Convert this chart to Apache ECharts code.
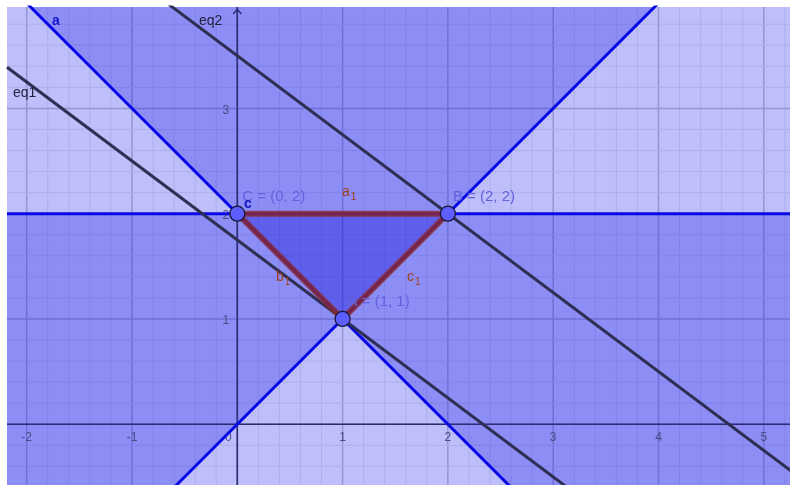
<!DOCTYPE html>
<html>
<head>
<meta charset="utf-8" />
<title>Triangle from three inequalities</title>
<script src="https://cdn.jsdelivr.net/npm/echarts@6/dist/echarts.min.js"></script>
<style>
html, body { margin: 0; padding: 0; background: #fff; }
#main { width: 790px; height: 485px; }
</style>
</head>
<body>
<div id="main"></div>
<script>
// visible window, in graph units
var xMin = -2.187, xMax = 5.249, yMin = -0.577, yMax = 3.963;

// lines as A*x + B*y = C
var lineNames = ['a', 'b', 'c', 'eq1', 'eq2'];
var lineA = [1, -1, 0, 3, 3];
var lineB = [1, 1, 1, 4, 4];
var lineC = [2, 0, 2, 7, 14];
// shaded side: 1 -> A*x+B*y >= C, -1 -> <=, 0 -> no shading
var shadeSide = [1, 1, -1, 0, 0];

var pointNames = ['A', 'B', 'C'];
var pointX = [1, 2, 0];
var pointY = [1, 2, 2];

// triangle sides (point indexes)
var sideNames = ['a1', 'b1', 'c1'];
var sideFrom = [2, 2, 0];
var sideTo = [1, 0, 1];

var xTicks = [-2, -1, 0, 1, 2, 3, 4, 5];
var yTicks = [1, 2, 3];
var minorStep = 0.2;

var FONT = '"Liberation Sans", Arial, sans-serif';

// cut a polygon with one half plane (Sutherland-Hodgman, one edge)
function clipHalf(poly, A, B, C, side) {
	var out = [];
	for (var i = 0; i < poly.length; i++) {
		var p = poly[i], q = poly[(i + 1) % poly.length];
		var fp = side * (A * p[0] + B * p[1] - C);
		var fq = side * (A * q[0] + B * q[1] - C);
		if (fp >= 0) out.push(p);
		if ((fp >= 0) !== (fq >= 0)) {
			var t = fp / (fp - fq);
			out.push([p[0] + t * (q[0] - p[0]), p[1] + t * (q[1] - p[1])]);
		}
	}
	return out;
}
var box = [[xMin - 1, yMin - 1], [xMax + 1, yMin - 1], [xMax + 1, yMax + 1], [xMin - 1, yMax + 1]];

var series = [];

// grid (drawn under the shading, like GeoGebra)
series.push({
	type: 'custom', z: 1, silent: true, animation: false,
	data: [[0, 0]],
	renderItem: function (params, api) {
		var kids = [];
		var k0 = Math.ceil(xMin / minorStep), k1 = Math.floor(xMax / minorStep);
		for (var k = k0; k <= k1; k++) {
			var v = k * minorStep;
			var major = Math.abs(v - Math.round(v)) < 1e-6;
			var p = api.coord([v, yMax]), q = api.coord([v, yMin]);
			kids.push({ type: 'line', shape: { x1: p[0], y1: p[1], x2: q[0], y2: q[1] },
				style: { stroke: major ? '#c8c8c8' : '#eaeaea', lineWidth: major ? 1.5 : 1 } });
		}
		k0 = Math.ceil(yMin / minorStep); k1 = Math.floor(yMax / minorStep);
		for (k = k0; k <= k1; k++) {
			v = k * minorStep;
			major = Math.abs(v - Math.round(v)) < 1e-6;
			p = api.coord([xMin, v]); q = api.coord([xMax, v]);
			kids.push({ type: 'line', shape: { x1: p[0], y1: p[1], x2: q[0], y2: q[1] },
				style: { stroke: major ? '#c8c8c8' : '#eaeaea', lineWidth: major ? 1.5 : 1 } });
		}
		return { type: 'group', children: kids };
	}
});

// half plane shading
var shadeIdx = [];
for (var i = 0; i < lineNames.length; i++) if (shadeSide[i] !== 0) shadeIdx.push([i, 0]);
series.push({
	type: 'custom', z: 2, clip: true, silent: true, animation: false,
	data: shadeIdx,
	renderItem: function (params, api) {
		var i = api.value(0);
		var poly = clipHalf(box, lineA[i], lineB[i], lineC[i], shadeSide[i]).map(function (p) { return api.coord(p); });
		return { type: 'polygon', shape: { points: poly }, style: { fill: 'rgba(0,0,235,0.255)' } };
	}
});

// triangle fill
series.push({
	type: 'custom', z: 3, clip: true, silent: true, animation: false,
	data: [[0, 0]],
	renderItem: function (params, api) {
		var pts = pointNames.map(function (n, j) { return api.coord([pointX[j], pointY[j]]); });
		return { type: 'polygon', shape: { points: pts }, style: { fill: 'rgba(0,0,170,0.09)' } };
	}
});

// axes, tick labels
series.push({
	type: 'custom', z: 4, silent: true, animation: false,
	data: [[0, 0]],
	renderItem: function (params, api) {
		var o = api.coord([0, 0]);
		var l = api.coord([xMin, 0]), r = api.coord([xMax, 0]);
		var t = api.coord([0, yMax]), b = api.coord([0, yMin]);
		var axisStyle = { stroke: '#2c2c74', lineWidth: 1.6 };
		var kids = [
			{ type: 'line', shape: { x1: l[0], y1: o[1], x2: r[0], y2: o[1] }, style: axisStyle },
			{ type: 'line', shape: { x1: o[0], y1: b[1], x2: o[0], y2: t[1] }, style: axisStyle },
			{ type: 'polyline', shape: { points: [[o[0] - 4, t[1] + 7], [o[0], t[1] + 2], [o[0] + 4, t[1] + 7]] },
				style: { stroke: '#2c2c74', lineWidth: 1.4, fill: null } }
		];
		xTicks.forEach(function (v) {
			var p = api.coord([v, 0]);
			kids.push({ type: 'text', x: v === 0 ? p[0] - 9 : p[0], y: p[1] + 13,
				style: { text: String(v), fill: '#4a4a80', font: '12px ' + FONT, align: 'center', verticalAlign: 'middle' } });
		});
		yTicks.forEach(function (v) {
			var p = api.coord([0, v]);
			kids.push({ type: 'text', x: p[0] - 8, y: p[1] + 2,
				style: { text: String(v), fill: '#4a4a80', font: '12px ' + FONT, align: 'right', verticalAlign: 'middle' } });
		});
		return { type: 'group', children: kids };
	}
});

// the five lines
lineNames.forEach(function (n, i) {
	var xa = xMin, xb = xMax + 1;
	var blue = shadeSide[i] !== 0;
	series.push({
		name: n, type: 'line', z: 5, symbol: 'none', animation: false, silent: true,
		lineStyle: { color: blue ? '#0808e6' : '#2e2e52', width: 3, cap: 'butt' },
		data: [[xa, (lineC[i] - lineA[i] * xa) / lineB[i]], [xb, (lineC[i] - lineA[i] * xb) / lineB[i]]]
	});
});

// triangle sides
sideNames.forEach(function (n, s) {
	var f = sideFrom[s], t = sideTo[s];
	series.push({
		name: n, type: 'line', z: 6, symbol: 'none', animation: false, silent: true,
		lineStyle: { color: 'rgba(140,44,44,0.8)', width: 6 },
		data: [[pointX[f], pointY[f]], [pointX[t], pointY[t]]]
	});
});

// points
series.push({
	type: 'scatter', z: 7, animation: false, silent: true,
	symbolSize: 15,
	itemStyle: { color: '#5e5eff', borderColor: '#151530', borderWidth: 1.2, opacity: 1 },
	label: {
		show: true, position: 'inside', offset: [5, -17], align: 'left', verticalAlign: 'middle',
		color: '#6262de', fontFamily: FONT, fontSize: 15,
		formatter: function (p) { return p.name + ' = (' + p.value[0] + ', ' + p.value[1] + ')'; }
	},
	data: pointNames.map(function (n, j) { return { name: n, value: [pointX[j], pointY[j]] }; })
});

function sub(txt, x, y, color) {
	return {
		type: 'text', x: x, y: y, z: 100,
		style: {
			text: '{m|' + txt.charAt(0) + '}{s|' + txt.slice(1) + '}',
			rich: {
				m: { fill: color, fontSize: 14, fontFamily: FONT },
				s: { fill: color, fontSize: 10, fontFamily: FONT, padding: [9, 0, 0, 1] }
			}
		}
	};
}

var chart = echarts.init(document.getElementById('main'), null, { renderer: 'canvas' });
chart.setOption({
	backgroundColor: '#fff',
	animation: false,
	grid: { left: 7, top: 7, right: 0, bottom: 0, containLabel: false },
	xAxis: { type: 'value', min: xMin, max: xMax, show: false },
	yAxis: { type: 'value', min: yMin, max: yMax, show: false },
	series: series,
	graphic: [
		{ type: 'text', x: 52, y: 14, z: 100, style: { text: 'a', fill: '#1414c8', font: 'bold 14px ' + FONT } },
		{ type: 'text', x: 244, y: 197, z: 100, style: { text: 'c', fill: '#1414c8', font: 'bold 14px ' + FONT } },
		{ type: 'text', x: 199, y: 14, z: 100, style: { text: 'eq2', fill: '#22223e', font: '14px ' + FONT } },
		{ type: 'text', x: 13, y: 86, z: 100, style: { text: 'eq1', fill: '#22223e', font: '14px ' + FONT } },
		sub('a1', 342, 183, '#a04018'),
		sub('b1', 276, 268, '#a04018'),
		sub('c1', 407, 268, '#a04018')
	]
});
</script>
</body>
</html>
